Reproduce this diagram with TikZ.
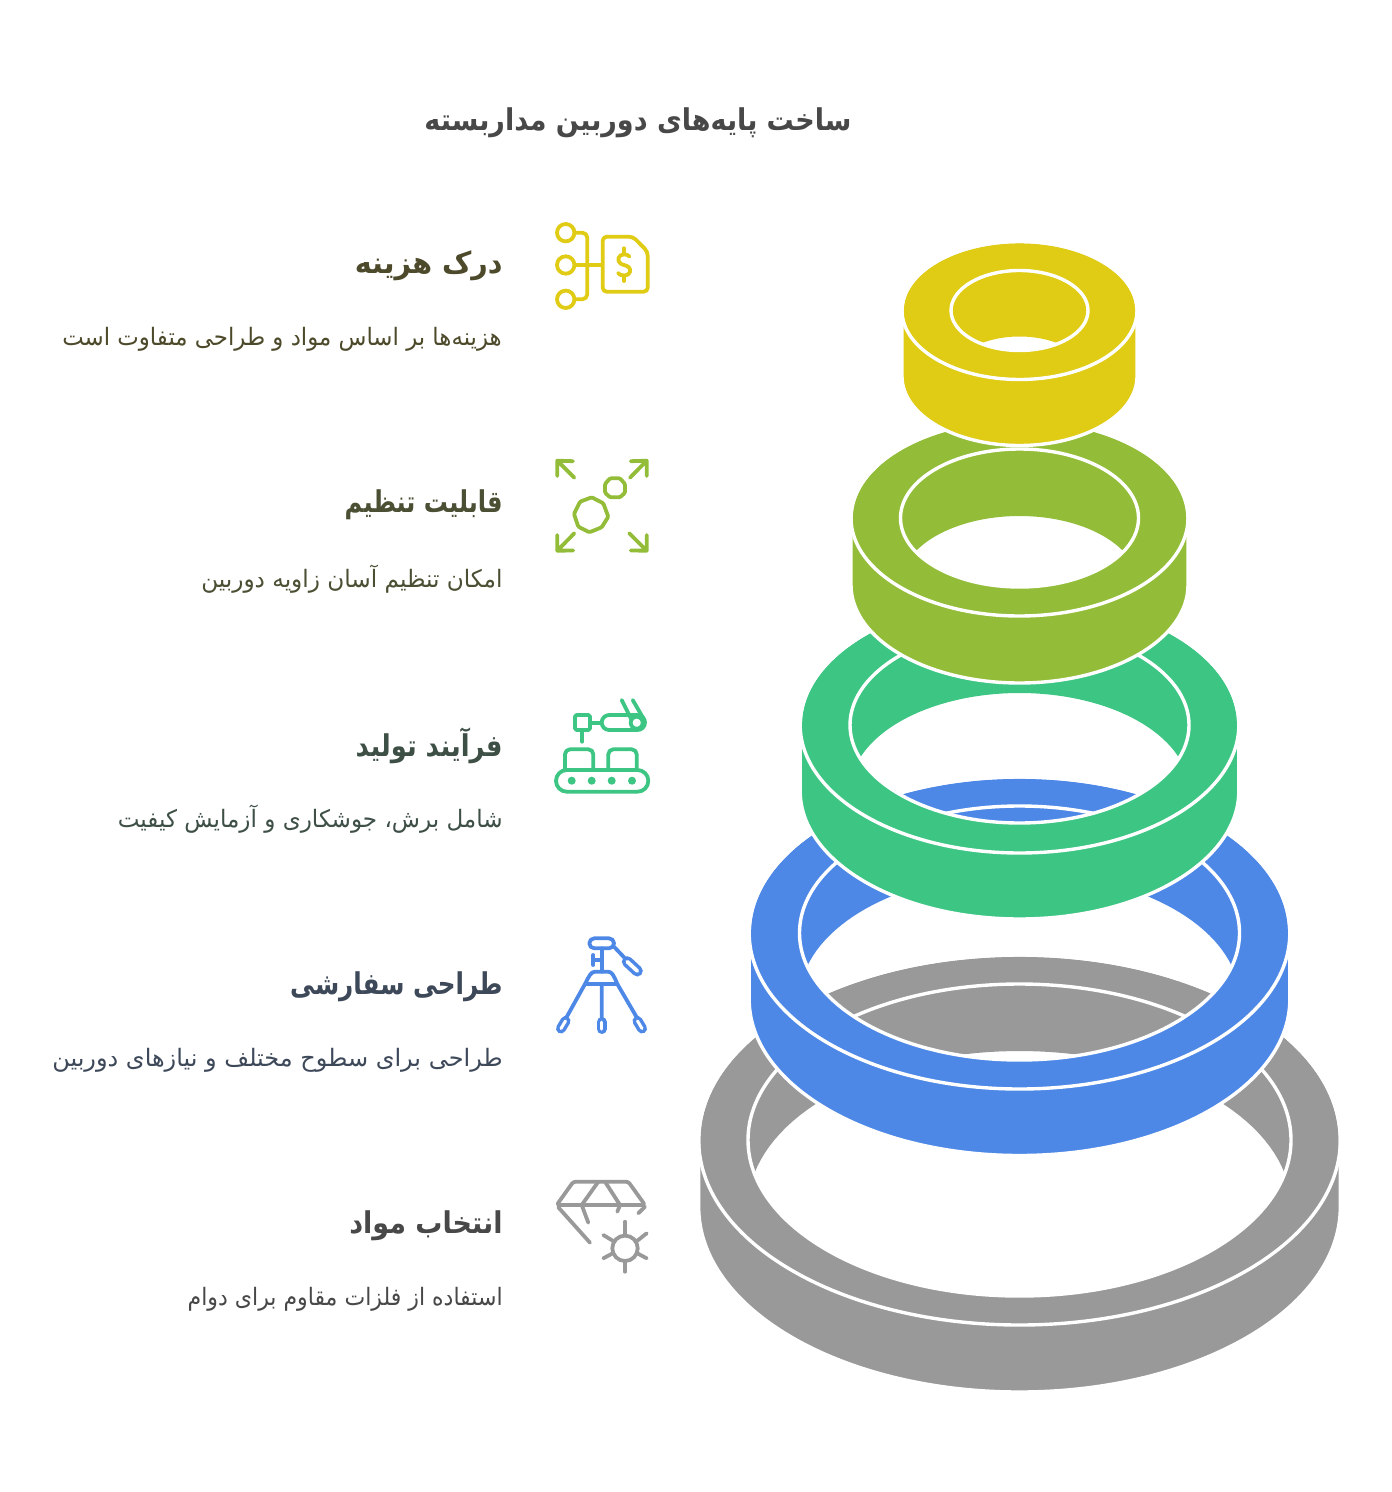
\documentclass[tikz,border=0pt]{standalone}
\usepackage{fontspec}
\TeXXeTstate=1
\newfontfamily\arabicfont[Script=Arabic]{DejaVu Sans}
\definecolor{cgray}{HTML}{999999}
\definecolor{cblue}{HTML}{4E88E7}
\definecolor{cgreen}{HTML}{3CC583}
\definecolor{colive}{HTML}{93BD39}
\definecolor{cyellow}{HTML}{E0CB15}
\definecolor{ttl}{HTML}{484848}
\definecolor{tyellow}{HTML}{4D4A2B}
\definecolor{tolive}{HTML}{4B4F33}
\definecolor{tgreen}{HTML}{3E5046}
\definecolor{tblue}{HTML}{3D4859}
\def\Kp{0.5523}
\newcommand\ellpath[4]{
  (#1-#3,#2) .. controls (#1-#3,#2-\Kp*#4) and (#1-\Kp*#3,#2-#4) .. (#1,#2-#4)
  .. controls (#1+\Kp*#3,#2-#4) and (#1+#3,#2-\Kp*#4) .. (#1+#3,#2)
  .. controls (#1+#3,#2+\Kp*#4) and (#1+\Kp*#3,#2+#4) .. (#1,#2+#4)
  .. controls (#1-\Kp*#3,#2+#4) and (#1-#3,#2+\Kp*#4) .. (#1-#3,#2) -- cycle}
\newcommand\silpath[5]{
  (#1-#3,#2) .. controls (#1-#3,#2-\Kp*#4) and (#1-\Kp*#3,#2-#4) .. (#1,#2-#4)
  .. controls (#1+\Kp*#3,#2-#4) and (#1+#3,#2-\Kp*#4) .. (#1+#3,#2)
  -- (#1+#3,#2+#5)
  .. controls (#1+#3,#2+#5+\Kp*#4) and (#1+\Kp*#3,#2+#5+#4) .. (#1,#2+#5+#4)
  .. controls (#1-\Kp*#3,#2+#5+#4) and (#1-#3,#2+#5+\Kp*#4) .. (#1-#3,#2+#5) -- cycle}
\newcommand\ringdraw[7]{
  \pgfmathsetmacro\thz{asin((#7/2)/#6)}
  \pgfmathsetmacro\thA{\thz}\pgfmathsetmacro\thB{180-\thz}
  \pgfmathsetmacro\thC{180+\thz}\pgfmathsetmacro\thD{360-\thz}
  \fill[#1,even odd rule] \silpath{1019.5}{#2}{#3}{#4}{#7}
     plot[domain=\thA:\thB,samples=60] ({1019.5+#5*cos(\x)},{#2+#6*sin(\x)})
     -- plot[domain=\thC:\thD,samples=60] ({1019.5+#5*cos(\x)},{#2+#7+#6*sin(\x)}) -- cycle;
  \draw[ringline] \silpath{1019.5}{#2}{#3}{#4}{#7};
  \draw[ringline] \ellpath{1019.5}{#2}{#3}{#4};
  \draw[ringline] \ellpath{1019.5}{#2}{#5}{#6};
}
\tikzset{
  ringline/.style={white,line width=1.7pt},
  titletext/.style={anchor=center,text=ttl,inner sep=0pt,font=\arabicfont\bfseries\fontsize{15}{18}\selectfont},
  headtext/.style={anchor=east,inner sep=0pt,font=\arabicfont\bfseries\fontsize{15}{18}\selectfont},
  bodytext/.style={anchor=east,inner sep=0pt,font=\arabicfont\fontsize{12}{14}\selectfont},
  ico/.style={line width=1.9pt,line cap=round,line join=round},
}
\begin{document}
\begin{tikzpicture}[x=0.5pt,y=-0.5pt]
\useasboundingbox (0,0) rectangle (1391,1492);
\ringdraw{cgray}{1140}{320.8}{185}{271.5}{156}{67}
\ringdraw{cblue}{933}{270.3}{156}{220}{127}{66.5}
\ringdraw{cgreen}{725}{219.3}{128}{169.5}{98}{66}
\ringdraw{colive}{518}{168.5}{98}{119}{69}{67}
\ringdraw{cyellow}{310.5}{117.5}{69}{68.5}{40}{66}

\node[titletext] (title) at (638,123) {\scalebox{0.90}[1]{\beginR ساخت پایه‌های دوربین مداربسته\endR}};
\node[headtext,text=tyellow] (h1) at (503,266) {\scalebox{0.953}[1]{\beginR درک هزینه\endR}};
\node[bodytext,text=tyellow] (b1) at (502,339) {\scalebox{0.952}[1]{\beginR هزینه‌ها بر اساس مواد و طراحی متفاوت است\endR}};
\node[headtext,text=tolive] (h2) at (503,505) {\scalebox{0.80}[1]{\beginR قابلیت تنظیم\endR}};
\node[bodytext,text=tolive] (b2) at (503,579) {\scalebox{0.965}[1]{\beginR امکان تنظیم آسان زاویه دوربین\endR}};
\node[headtext,text=tgreen] (h3) at (503,746) {\scalebox{0.86}[1]{\beginR فرآیند تولید\endR}};
\node[bodytext,text=tgreen] (b3) at (503,819) {\scalebox{0.96}[1]{\beginR شامل برش، جوشکاری و آزمایش کیفیت\endR}};
\node[headtext,text=tblue] (h4) at (503,987) {\scalebox{0.82}[1]{\beginR طراحی سفارشی\endR}};
\node[bodytext,text=tblue] (b4) at (503,1060) {\scalebox{1.0}[1]{\beginR طراحی برای سطوح مختلف و نیازهای دوربین\endR}};
\node[headtext,text=ttl] (h5) at (503,1226) {\scalebox{0.90}[1]{\beginR انتخاب مواد\endR}};
\node[bodytext,text=ttl] (b5) at (503,1299) {\scalebox{0.918}[1]{\beginR استفاده از فلزات مقاوم برای دوام\endR}};

% yellow icon
\begin{scope}[ico,cyellow]
\draw (565.7,232.7) circle[radius=4.35pt] (565.7,265) circle[radius=4.35pt] (565.7,299.3) circle[radius=4.35pt];
\draw[rounded corners=2.5pt] (575,232.7) -- (587.3,232.7) -- (587.3,299.3) -- (575,299.3);
\draw (575,265) -- (601.7,265);
\draw[rounded corners=2pt] (602.7,236.7) -- (633,236.7) -- (647.7,251.7) -- (647.7,291.7) -- (602.7,291.7) -- cycle;
\draw (629.5,256.5) .. controls (628,254) and (620,253) .. (618.5,258)
  .. controls (617.5,263) and (622,264.5) .. (624,265)
  .. controls (628,266) and (631,268) .. (630,272)
  .. controls (629,276.5) and (620,276.5) .. (618,273);
\draw (624,248.3) -- (624,253) (624,276.7) -- (624,281);
\end{scope}
% olive icon
\begin{scope}[ico,colive]
\draw (573,461.2) -- (557.3,460.7) -- (557.3,476) (557.3,460.7) -- (574.3,477.7);
\draw (630.7,461.2) -- (646.7,460.7) -- (646.7,476) (646.7,460.7) -- (630,477.7);
\draw (573.3,550.5) -- (557.3,550.7) -- (557.3,535) (557.3,550.7) -- (574.3,533.3);
\draw (630.7,550.5) -- (646.7,550.7) -- (646.7,535) (646.7,550.7) -- (629.3,533.3);
\draw[rounded corners=0.6pt] (610,478.3) -- (620,478.3) -- (625,484) -- (625,492.7) -- (620,497.3) -- (610,497.3) -- (605,492.7) -- (605,484) -- cycle;
\draw[rounded corners=0.6pt] (580,501.7) -- (591.7,497.3) -- (603.3,503.3) -- (608.3,516.7) -- (601.7,527.3) -- (589.3,532.3) -- (578.3,526.7) -- (574,514) -- cycle;
\end{scope}
% green icon
\begin{scope}[ico,cgreen]
\draw[rounded corners=0.8pt] (575,715) rectangle (590,730);
\draw (582.3,730) -- (582.3,741.7);
\draw (590,722.7) -- (600,722.7);
\draw[rounded corners=3.75pt] (601.7,715) rectangle (645,730);
\draw (636.7,722.7) circle[radius=3pt];
\draw (621.7,700) -- (631.7,720) (632.7,700) -- (643.3,718.3);
\draw[rounded corners=2.5pt] (565,770) -- (565,749.3) -- (593.3,749.3) -- (593.3,770);
\draw[rounded corners=2.5pt] (608.3,770) -- (608.3,749.3) -- (636.7,749.3) -- (636.7,770);
\draw[rounded corners=5.4pt] (556,770) rectangle (648.3,791.7);
\foreach \dx in {571.7,591.7,611.7,632}
  \fill (\dx,780.7) circle[radius=2pt];
\end{scope}
% blue icon
\begin{scope}[ico,cblue]
\draw[rounded corners=2.5pt] (589.3,938.3) rectangle (614,948.3);
\draw (601.7,948.3) -- (601.7,971.7);
\draw (593.3,955) -- (593.3,965) (593.3,960) -- (601.7,960);
\draw (614,946.7) -- (625,958.3);
\draw[line width=5.5pt] (627.3,961.7) -- (637.3,971);
\draw[white,line width=1.9pt] (627.3,961.7) -- (637.3,971);
\draw (585,984) .. controls (589,976) and (591,971.7) .. (595,971.7) -- (608.3,971.7)
   .. controls (612,971.7) and (614,976) .. (617.3,984) -- cycle;
\draw (585,984) -- (565,1020) (617.3,984) -- (638.3,1020) (601.7,984) -- (601.7,1018.3);
\draw[line width=5pt] (565.5,1021) -- (561,1028.5);
\draw[line width=5pt] (601.7,1022) -- (601.7,1029);
\draw[line width=5pt] (637.5,1021) -- (642,1028.5);
\draw[white,line width=1.5pt] (565.5,1021) -- (561,1028.5);
\draw[white,line width=1.5pt] (601.7,1022) -- (601.7,1029);
\draw[white,line width=1.5pt] (637.5,1021) -- (642,1028.5);
\end{scope}
% gray icon
\begin{scope}[ico,cgray]
\draw[rounded corners=1.2pt] (556.7,1205) -- (573.3,1181.7) -- (628.3,1181.7) -- (645,1205) -- cycle;
\draw (558.3,1207.3) -- (590,1242.7);
\draw (598.3,1181.7) -- (581.7,1205) -- (588.3,1222.7);
\draw (605,1181.7) -- (620,1205) -- (617.3,1211.7);
\draw (645,1206.7) -- (638.3,1213.3);
\draw (625,1248.3) circle[radius=6.35pt];
\draw (625,1221.7) -- (625,1235) (625,1261.7) -- (625,1271.7);
\draw (603.3,1235) -- (612.7,1240.7) (646.7,1233.3) -- (637.3,1240.7);
\draw (603.3,1258.3) -- (612.7,1253.3) (646.7,1258.3) -- (637.3,1253.3);
\end{scope}
\end{tikzpicture}
\end{document}
